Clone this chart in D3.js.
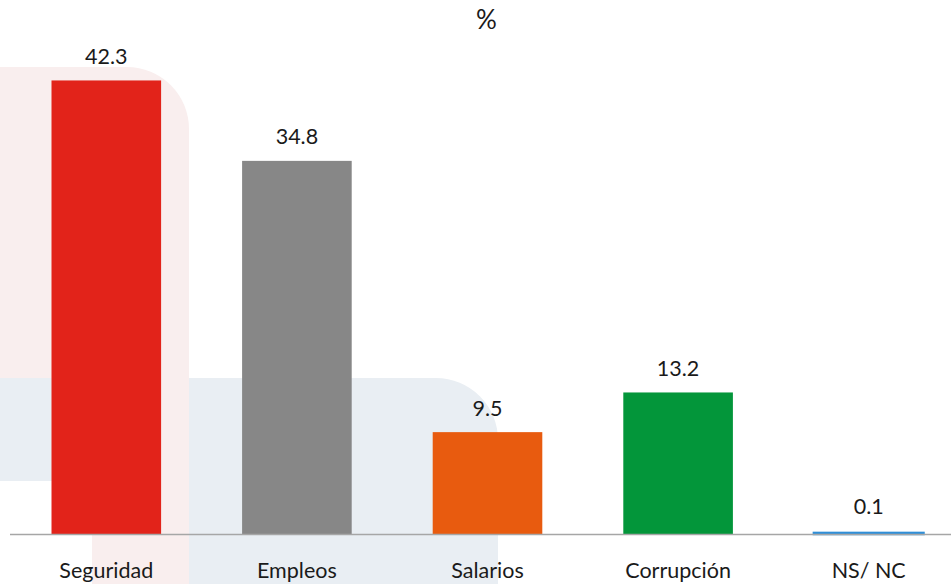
<!DOCTYPE html>
<html>
<head>
<meta charset="utf-8">
<script src="https://cdn.jsdelivr.net/npm/d3@7"></script>
<style>
  html, body { margin: 0; padding: 0; background: #fff; }
  svg { display: block; }
  text { font-family: Lato, "Open Sans", sans-serif; fill: #1a1a1a; }
</style>
</head>
<body>
<svg id="chart" width="951" height="584"></svg>
<script>
const categories = ["Seguridad", "Empleos", "Salarios", "Corrupción", "NS/ NC"];
const values = [42.3, 34.8, 9.5, 13.2, 0.1];
const colors = ["#e2231a", "#878787", "#e85b0f", "#03963a", "#2f8fd8"];
const title = "%";

const W = 951, H = 584;
const svg = d3.select("#chart");

// background watermark shapes
const bg = svg.append("g");
function roundTR(x0, y0, x1, y1, r) {
  return `M${x0},${y0} H${x1 - r} A${r},${r} 0 0 1 ${x1},${y0 + r} V${y1} H${x0} Z`;
}
bg.append("path").attr("d", roundTR(0, 67, 189, 378, 62)).attr("fill", "#f9eeee");
bg.append("path").attr("d", roundTR(0, 378, 498, 481, 62)).attr("fill", "#e9eef3");
bg.append("rect").attr("x", 189).attr("y", 440).attr("width", 309).attr("height", H - 440).attr("fill", "#e9eef3");
bg.append("rect").attr("x", 92).attr("y", 378).attr("width", 97).attr("height", H - 378).attr("fill", "#f9eeee");

const x = d3.scaleBand()
  .domain(categories)
  .range([11, 964])
  .paddingInner(0.425)
  .paddingOuter(0.2125);

const y = d3.scaleLinear().domain([0, 45]).range([534, 51.5]);

// bars
svg.append("g").selectAll("rect")
  .data(values)
  .join("rect")
  .attr("x", (d, i) => x(categories[i]))
  .attr("y", d => y(d))
  .attr("width", x.bandwidth())
  .attr("height", d => y(0) - y(d))
  .attr("fill", (d, i) => colors[i])
  .attr("stroke", (d, i) => d < 1 ? colors[i] : "none")
  .attr("stroke-width", (d, i) => d < 1 ? 2.5 : 0);

// axis
const xAxis = d3.axisBottom(x).tickSize(0).tickPadding(29);
const ax = svg.append("g").attr("transform", `translate(0,${y(0)})`).call(xAxis);
ax.select(".domain").attr("d", `M10,0.5H${W}`).attr("stroke", "#a6a6a6").attr("stroke-width", 1.5);
ax.selectAll(".tick text")
  .attr("font-size", 21.5)
  .attr("font-family", "Lato, 'Open Sans', sans-serif")
  .attr("fill", "#1a1a1a")
  .attr("dy", "0.71em");

// value labels
svg.append("g").selectAll("text")
  .data(values)
  .join("text")
  .attr("x", (d, i) => x(categories[i]) + x.bandwidth() / 2)
  .attr("y", d => y(d) - 16.5 - (d < 1 ? 2 : 0))
  .attr("text-anchor", "middle")
  .attr("font-size", 21.5)
  .text(d => d.toFixed(1));

// title
svg.append("text")
  .attr("x", 486.5)
  .attr("y", 29)
  .attr("text-anchor", "middle")
  .attr("font-size", 26)
  .text(title);
</script>
</body>
</html>
